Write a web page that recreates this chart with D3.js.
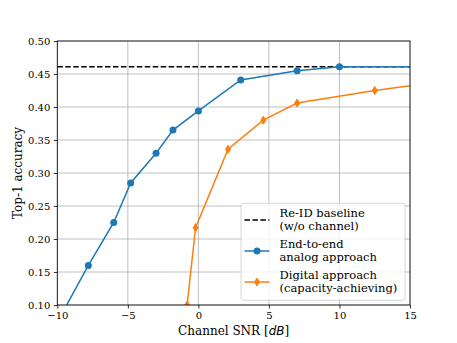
<!DOCTYPE html>
<html>
<head>
<meta charset="utf-8">
<script src="https://cdn.jsdelivr.net/npm/d3@7"></script>
<style>
  html, body { margin: 0; padding: 0; background: #fff; }
  svg { display: block; }
  text { font-family: "DejaVu Serif", serif; fill: #000; }
</style>
</head>
<body>
<svg id="chart" width="457" height="343"></svg>
<script>
// ---- data ----
const analogSNR = [-10, -7.8, -6, -4.8, -3, -1.8, 0, 3, 7, 10, 20];
const analogAcc = [0.074, 0.160, 0.225, 0.285, 0.330, 0.365, 0.394, 0.441, 0.455, 0.461, 0.461];
const digitalSNR = [-0.8, -0.2, 2.1, 4.6, 7, 12.5, 20];
const digitalAcc = [0.100, 0.217, 0.336, 0.380, 0.406, 0.425, 0.447];
const baselineAcc = 0.461;
const xTicks = [-10, -5, 0, 5, 10, 15];
const yTicks = [0.10, 0.15, 0.20, 0.25, 0.30, 0.35, 0.40, 0.45, 0.50];
const legendLabels = [
  ["Re-ID baseline", "(w/o channel)"],
  ["End-to-end", "analog approach"],
  ["Digital approach", "(capacity-achieving)"]
];

const blue = "#1f77b4", orange = "#ff7f0e";
const L = 57.3, R = 410, T = 41, B = 305;

const svg = d3.select("#chart");
const x = d3.scaleLinear().domain([-10, 15]).range([L, R]);
const y = d3.scaleLinear().domain([0.10, 0.50]).range([B, T]);

svg.append("defs").append("clipPath").attr("id", "clip")
  .append("rect").attr("x", L).attr("y", T).attr("width", R - L).attr("height", B - T);

// grid
const grid = svg.append("g");
grid.selectAll(".gx").data(xTicks).join("line")
  .attr("x1", d => x(d)).attr("x2", d => x(d)).attr("y1", T).attr("y2", B)
  .attr("stroke", "#b0b0b0").attr("stroke-width", 0.8);
grid.selectAll(".gy").data(yTicks).join("line")
  .attr("y1", d => y(d)).attr("y2", d => y(d)).attr("x1", L).attr("x2", R)
  .attr("stroke", "#b0b0b0").attr("stroke-width", 0.8);

const plot = svg.append("g").attr("clip-path", "url(#clip)");

// baseline
plot.append("line")
  .attr("x1", x(-10)).attr("x2", x(15)).attr("y1", y(baselineAcc)).attr("y2", y(baselineAcc))
  .attr("stroke", "#000").attr("stroke-width", 1.5).attr("stroke-dasharray", "5.55,2.4");

const line = d3.line().x(d => x(d[0])).y(d => y(d[1]));
const analog = analogSNR.map((s, i) => [s, analogAcc[i]]);
const digital = digitalSNR.map((s, i) => [s, digitalAcc[i]]);

plot.append("path").datum(analog).attr("d", line)
  .attr("fill", "none").attr("stroke", blue).attr("stroke-width", 1.5);
plot.selectAll(".ma").data(analog).join("circle")
  .attr("cx", d => x(d[0])).attr("cy", d => y(d[1])).attr("r", 3.5).attr("fill", blue);

plot.append("path").datum(digital).attr("d", line)
  .attr("fill", "none").attr("stroke", orange).attr("stroke-width", 1.5);
const dia = (cx, cy) => `M${cx},${cy-4} L${cx+2.5},${cy} L${cx},${cy+4} L${cx-2.5},${cy} Z`;
plot.selectAll(".md").data(digital).join("path")
  .attr("d", d => dia(x(d[0]), y(d[1]))).attr("fill", orange)
  .attr("stroke", orange).attr("stroke-width", 1);

// axes
const xAxis = d3.axisBottom(x).tickValues(xTicks).tickSize(3.5).tickPadding(3.5)
  .tickFormat(d => d < 0 ? "\u2212" + Math.abs(d) : d);
const yAxis = d3.axisLeft(y).tickValues(yTicks).tickSize(3.5).tickPadding(3.5)
  .tickFormat(d3.format(".2f"));
const gx = svg.append("g").attr("transform", `translate(0,${B})`).call(xAxis);
const gy = svg.append("g").attr("transform", `translate(${L},0)`).call(yAxis);
[gx, gy].forEach(g => {
  g.attr("font-family", "DejaVu Serif");
  g.select(".domain").remove();
  g.selectAll("line").attr("stroke", "#000").attr("stroke-width", 0.8);
  g.selectAll("text").attr("font-family", "DejaVu Serif").attr("font-size", 10).attr("fill", "#000");
});

// frame
svg.append("rect").attr("x", L).attr("y", T).attr("width", R - L).attr("height", B - T)
  .attr("fill", "none").attr("stroke", "#000").attr("stroke-width", 0.8);

// axis labels
const xl = svg.append("text").attr("x", (L + R) / 2).attr("y", 335)
  .attr("text-anchor", "middle").attr("font-size", 12);
xl.append("tspan").text("Channel SNR [");
xl.append("tspan").attr("font-family", "DejaVu Sans").attr("font-style", "italic").text("dB");
xl.append("tspan").text("]");

svg.append("text").attr("transform", `translate(22,${(T + B) / 2}) rotate(-90)`)
  .attr("text-anchor", "middle").attr("font-size", 12).text("Top-1 accuracy");

// legend
const lg = svg.append("g");
lg.append("rect").attr("x", 241).attr("y", 203.3).attr("width", 164).attr("height", 97)
  .attr("rx", 2.5).attr("fill", "#fff").attr("fill-opacity", 0.8)
  .attr("stroke", "#cccccc").attr("stroke-width", 0.8);
const rowY = [220, 251, 282];
const hx1 = 244.5, hx2 = 269.5, tx = 279.5;
lg.append("line").attr("x1", hx1).attr("x2", hx2).attr("y1", rowY[0]).attr("y2", rowY[0])
  .attr("stroke", "#000").attr("stroke-width", 1.5).attr("stroke-dasharray", "5.55,2.4");
lg.append("line").attr("x1", hx1).attr("x2", hx2).attr("y1", rowY[1]).attr("y2", rowY[1])
  .attr("stroke", blue).attr("stroke-width", 1.5);
lg.append("circle").attr("cx", (hx1 + hx2) / 2).attr("cy", rowY[1]).attr("r", 3.5).attr("fill", blue);
lg.append("line").attr("x1", hx1).attr("x2", hx2).attr("y1", rowY[2]).attr("y2", rowY[2])
  .attr("stroke", orange).attr("stroke-width", 1.5);
lg.append("path").attr("d", dia((hx1 + hx2) / 2, rowY[2])).attr("fill", orange)
  .attr("stroke", orange).attr("stroke-width", 1);
legendLabels.forEach((lines, i) => {
  lines.forEach((t, j) => {
    lg.append("text").attr("x", tx).attr("y", rowY[i] - 3.2 + j * 13.5)
      .attr("font-size", 11.5).text(t);
  });
});
</script>
</body>
</html>
